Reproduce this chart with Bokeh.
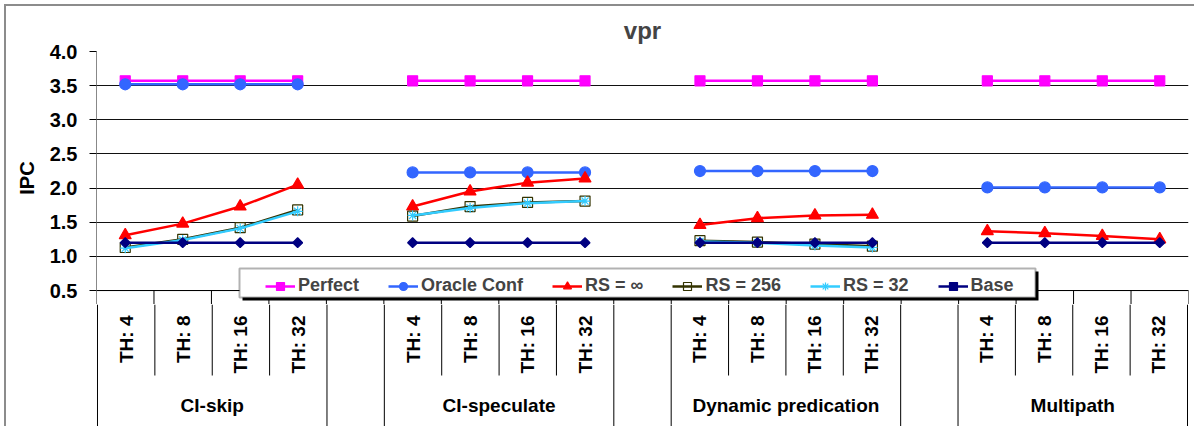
import math
from bokeh.plotting import figure
from bokeh.layouts import column
from bokeh.models import (ColumnDataSource, Legend, LegendItem, FixedTicker,
                          BoxAnnotation, Range1d)
from bokeh.core.properties import value
from bokeh.embed import file_html
from bokeh.resources import INLINE

NaN = float("nan")

# ---------------- data ----------------
groups = ["CI-skip", "CI-speculate", "Dynamic predication", "Multipath"]
thresholds = ["TH: 4", "TH: 8", "TH: 16", "TH: 32"]
y_ticks = [0.5, 1.0, 1.5, 2.0, 2.5, 3.0, 3.5, 4.0]
y_tick_labels = ["0.5", "1.0", "1.5", "2.0", "2.5", "3.0", "3.5", "4.0"]

series_names = ["Perfect", "Oracle Conf", "RS = \u221e", "RS = 256", "RS = 32", "Base"]

perfect = [3.57, 3.57, 3.57, 3.57,  3.57, 3.57, 3.57, 3.57,  3.57, 3.57, 3.57, 3.57,  3.57, 3.57, 3.57, 3.57]
oracle  = [3.52, 3.52, 3.52, 3.52,  2.23, 2.23, 2.23, 2.23,  2.25, 2.25, 2.25, 2.25,  2.01, 2.01, 2.01, 2.01]
rs_inf  = [1.31, 1.48, 1.73, 2.05,  1.73, 1.95, 2.08, 2.14,  1.46, 1.56, 1.60, 1.61,  1.37, 1.34, 1.30, 1.25]
rs_256  = [1.13, 1.25, 1.42, 1.68,  1.59, 1.73, 1.79, 1.81,  1.23, 1.21, 1.18, 1.15,  NaN, NaN, NaN, NaN]
rs_32   = [1.12, 1.24, 1.41, 1.66,  1.60, 1.71, 1.78, 1.81,  1.22, 1.20, 1.16, 1.13,  NaN, NaN, NaN, NaN]
base    = [1.20, 1.20, 1.20, 1.20,  1.20, 1.20, 1.20, 1.20,  1.20, 1.20, 1.20, 1.20,  1.20, 1.20, 1.20, 1.20]

# ---------------- layout constants ----------------
FONT = value("Liberation Sans")
n_th = len(thresholds)
slots_per_group = n_th + 1          # one empty slot between groups
n_slots = len(groups) * slots_per_group - 1
Y_MIN = 0.2958                      # main frame reaches a little below the 0.5 line
SLOT_PX = 1092 / n_slots
EDGE = 1 / SLOT_PX                  # one pixel in x data units

# bottom (category) panel vertical layout, pixel-like units from its bottom
CAT_H = 122
ROW1_BOTTOM = 51
TH_ANCHOR = 111
GROUP_Y = 21


def slot_x(g, j):
    return g * slots_per_group + j + 0.5


xs = []
for g in range(len(groups)):
    for j in range(n_th):
        xs.append(slot_x(g, j))
    if g < len(groups) - 1:
        xs.append(NaN)


def with_gaps(vals):
    out = []
    for g in range(len(groups)):
        out.extend(vals[g * n_th:(g + 1) * n_th])
        if g < len(groups) - 1:
            out.append(NaN)
    return out


# separator boundaries of the category axis
full_b, row_b = [], []
for g in range(len(groups)):
    start = g * slots_per_group
    full_b += [start, start + n_th]
    row_b += [start + j for j in range(1, n_th)]
    if g < len(groups) - 1:
        full_b.append(start + n_th + 1)
full_b = sorted(set(full_b))

# ---------------- main plot ----------------
p = figure(width=1188, height=298, output_backend="svg", toolbar_location=None,
           x_range=Range1d(0, n_slots), y_range=Range1d(Y_MIN, 4.0),
           min_border_left=90, min_border_right=6, min_border_top=44, min_border_bottom=0)
p.outline_line_color = None
p.xaxis.visible = False
p.xgrid.visible = False

p.yaxis.ticker = FixedTicker(ticks=y_ticks)
p.yaxis.major_label_overrides = {t: l for t, l in zip(y_ticks, y_tick_labels)}
p.yaxis.major_label_text_font = "Liberation Sans"
p.yaxis.major_label_text_font_style = "bold"
p.yaxis.major_label_text_font_size = "20px"
p.yaxis.major_label_text_color = "black"
p.yaxis.major_tick_out = 7
p.yaxis.major_tick_in = 0
p.yaxis.minor_tick_line_color = None
p.yaxis.major_tick_line_color = "black"
p.yaxis.axis_line_color = "#888888"
p.yaxis.major_label_standoff = 12
p.yaxis.axis_label = "IPC"
p.yaxis.axis_label_text_font = "Liberation Sans"
p.yaxis.axis_label_text_font_style = "bold"
p.yaxis.axis_label_text_font_size = "20px"
p.yaxis.axis_label_text_color = "black"
p.yaxis.axis_label_standoff = 9
p.ygrid.ticker = FixedTicker(ticks=y_ticks)
p.ygrid.grid_line_color = "#111111"
p.ygrid.grid_line_width = 1

p.title.text = "vpr"
p.title.align = "center"
p.title.text_font = "Liberation Sans"
p.title.text_font_size = "24px"
p.title.text_font_style = "bold"
p.title.standoff = 16

# upper ends of the category separators (between the 0.5 line and the frame bottom)
all_b = sorted(full_b + row_b)
p.segment(x0=all_b, x1=all_b, y0=[0.5] * len(all_b), y1=[Y_MIN] * len(all_b),
          line_color="black", line_width=1)
p.segment(x0=[0], x1=[n_slots], y0=[0.5], y1=[0.5], line_color="black", line_width=1)

styles = [
    dict(color="#FF00FF", marker="square", size=10, fill="#FF00FF", angle=0),
    dict(color="#3366FF", marker="circle", size=11, fill="#3366FF", angle=0),
    dict(color="#FF0000", marker="triangle", size=12, fill="#FF0000", angle=0),
    dict(color="#333300", marker="square", size=10, fill=None, angle=0),
    dict(color="#33CCFF", marker="asterisk", size=10, fill=None, angle=0),
    dict(color="#000080", marker="square", size=7, fill="#000080", angle=math.pi / 4),
]
all_vals = [perfect, oracle, rs_inf, rs_256, rs_32, base]

items = []
for name, vals, st in zip(series_names, all_vals, styles):
    src = ColumnDataSource(dict(x=xs, y=with_gaps(vals)))
    lr = p.line("x", "y", source=src, line_color=st["color"], line_width=2.5)
    sr = p.scatter("x", "y", source=src, marker=st["marker"], size=st["size"],
                   fill_color=st["fill"], line_color=st["color"], line_width=1.2,
                   angle=st["angle"])
    items.append(LegendItem(label=name, renderers=[lr, sr]))

# legend frame with shadow (screen units from the frame's bottom-left)
p.add_layout(BoxAnnotation(left=146, right=942, top=33, bottom=4,
                           left_units="screen", right_units="screen",
                           top_units="screen", bottom_units="screen",
                           fill_color="black", fill_alpha=1, line_color=None))
p.add_layout(BoxAnnotation(left=143, right=939, top=36, bottom=7,
                           left_units="screen", right_units="screen",
                           top_units="screen", bottom_units="screen",
                           fill_color="white", fill_alpha=1, line_color="black", line_width=2))

legend = Legend(items=items, orientation="horizontal", location=(169, 8), margin=0,
                padding=4, spacing=29, glyph_width=30, glyph_height=20, label_height=20,
                label_standoff=3, label_text_font="Liberation Sans",
                label_text_font_style="bold", label_text_font_size="18px",
                background_fill_alpha=0, border_line_color=None)
p.add_layout(legend, "center")

# ---------------- category axis panel ----------------
c = figure(width=1188, height=CAT_H, output_backend="svg", toolbar_location=None,
           x_range=Range1d(-EDGE, n_slots + EDGE), y_range=Range1d(0, CAT_H),
           min_border_left=89, min_border_right=5, min_border_top=0, min_border_bottom=0)
c.outline_line_color = None
c.axis.visible = False
c.grid.visible = False
c.segment(x0=full_b, x1=full_b, y0=[CAT_H] * len(full_b), y1=[0] * len(full_b),
          line_color="black", line_width=1)
c.segment(x0=row_b, x1=row_b, y0=[CAT_H] * len(row_b), y1=[ROW1_BOTTOM] * len(row_b),
          line_color="black", line_width=1)

th_x = [slot_x(g, j) for g in range(len(groups)) for j in range(n_th)]
th_t = [thresholds[j] for g in range(len(groups)) for j in range(n_th)]
c.text(x=th_x, y=[TH_ANCHOR] * len(th_x), text=th_t, angle=math.pi / 2,
       text_align="right", text_baseline="middle", text_font=FONT,
       text_font_style="bold", text_font_size="19px", text_color="black")

g_x = [g * slots_per_group + n_th / 2 for g in range(len(groups))]
c.text(x=g_x, y=[GROUP_Y] * len(g_x), text=groups, text_align="center",
       text_baseline="middle", text_font=FONT, text_font_style="bold",
       text_font_size="19px", text_color="black")

layout = column(p, c, spacing=0, margin=(4, 0, 0, 4),
                styles={"border-left": "2px solid #8c8c8c", "border-top": "2px solid #8c8c8c"})

open("out.html", "w").write(file_html(layout, INLINE))
